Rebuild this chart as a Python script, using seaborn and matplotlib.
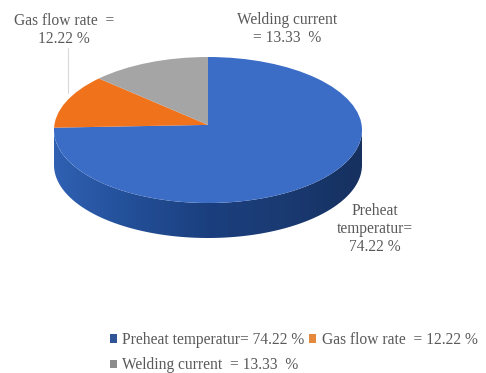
import numpy as np
import matplotlib
matplotlib.use("Agg")
import matplotlib.pyplot as plt
from matplotlib.patches import Polygon, Patch, Ellipse
import seaborn as sns

# Contribution of each welding parameter, percent
parameters = ["Preheat temperatur", "Gas flow rate", "Welding current"]
contributions = [74.22, 12.22, 13.33]
legend_labels = ["Preheat temperatur= 74.22 %", "Gas flow rate  = 12.22 %", "Welding current  = 13.33  %"]
slice_colors = ["#3b6cc6", "#f0731c", "#a5a5a5"]
rim_colors = ["#2f60b2", "#234f98", "#1b3f7e", "#1a3a72", "#16305f"]

sns.set_theme(style="white")
plt.rcParams["font.family"] = ["Liberation Serif", "DejaVu Serif"]
TEXT = "#595959"

W, H = 486, 373
fig = plt.figure(figsize=(W / 100, H / 100), dpi=100)
canvas = fig.add_axes([0, 0, 1, 1])
canvas.set_xlim(0, W)
canvas.set_ylim(H, 0)
canvas.axis("off")

# The disc axes spans the top face plus the extruded rim below it
left, right, top, bottom = 54, 362, 57, 238
face_bottom = 203
pie_ax = fig.add_axes([left / W, 1 - bottom / H, (right - left) / W, (bottom - top) / H])
depth = 2 * (bottom - face_bottom) / (face_bottom - top)

# Tilted view: the slices meet slightly above the middle of the face,
# so an oversized pie is cut back to the elliptical outline
wedges, _ = pie_ax.pie(
    contributions, colors=sns.color_palette(slice_colors), startangle=90,
    counterclock=False, normalize=True, radius=1.2, center=(0, 0.07),
    wedgeprops={"linewidth": 0, "zorder": 3},
)
pie_ax.set_aspect("auto")
face = Ellipse((0, 0), 2, 2, transform=pie_ax.transData, facecolor="none", edgecolor="none")
pie_ax.add_patch(face)
for wedge in wedges:
    wedge.set_clip_on(True)
    wedge.set_clip_path(face)

# Rim: horizontal shading clipped to the lower half of the extruded ellipse
t = np.linspace(np.pi, 2 * np.pi, 200)
rim_outline = np.vstack([
    np.column_stack([np.cos(t), np.sin(t) - depth]),
    np.column_stack([np.cos(t[::-1]), np.sin(t[::-1])]),
])
rim_shape = Polygon(rim_outline, closed=True, transform=pie_ax.transData, facecolor="none", edgecolor="none")
pie_ax.add_patch(rim_shape)
shade = sns.blend_palette(rim_colors, as_cmap=True)
rim = pie_ax.imshow(
    np.linspace(0, 1, 256).reshape(1, -1), cmap=shade, aspect="auto",
    extent=(-1, 1, -1 - depth, 0), zorder=1,
)
rim.set_clip_path(rim_shape)

pie_ax.set_xlim(-1, 1)
pie_ax.set_ylim(-1 - depth, 1)
pie_ax.axis("off")

# Callouts
font = {"fontsize": 11.2, "color": TEXT, "ha": "center", "va": "center", "linespacing": 1.2}
canvas.text(64, 30, "Gas flow rate  =\n12.22 %", **font)
canvas.text(287, 29, "Welding current\n= 13.33  %", **font)
canvas.text(375, 229, "Preheat\ntemperatur=\n74.22 %", **font)
canvas.plot([68, 68], [48, 93], color="#d9d9d9", lw=0.8)

# Legend fills column-wise, so the third entry sits under the first
order = [0, 2, 1]
handles = [Patch(facecolor=c, edgecolor="none") for c in [["#2f5597", "#e58a3c", "#8c8c8c"][i] for i in order]]
canvas.legend(
    handles, [legend_labels[i] for i in order], ncol=2, frameon=False,
    loc="upper left", bbox_to_anchor=(110 / W, 1 - 332 / H), borderaxespad=0, borderpad=0,
    fontsize=11.2, labelcolor=TEXT, handlelength=0.45, handleheight=0.45, handletextpad=0.35,
    columnspacing=0.3, labelspacing=0.6,
)

fig.savefig("out.png", dpi=100, facecolor="white")
